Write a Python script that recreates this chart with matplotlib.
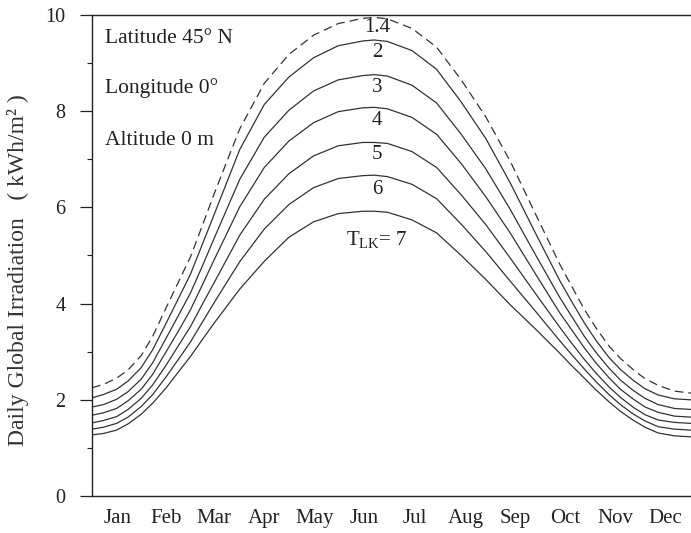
import matplotlib
matplotlib.use("Agg")
import matplotlib.pyplot as plt
from matplotlib.ticker import MultipleLocator, FixedLocator

plt.rcParams['font.family'] = ['Liberation Serif', 'DejaVu Serif']
plt.rcParams['mathtext.fontset'] = 'custom'
plt.rcParams['mathtext.rm'] = 'Liberation Serif'
plt.rcParams['mathtext.it'] = 'Liberation Serif:italic'

# day of year
days = [0, 7, 15, 22, 30, 37, 45, 52, 60, 67, 75, 90, 105, 120, 135, 150, 165, 172, 180,
        195, 210, 225, 240, 255, 270, 285, 292, 300, 307, 315, 322, 330, 337, 345, 355, 365]

# daily global irradiation (kWh/m2) for Linke turbidity values
tlk_1_4 = [2.25, 2.32, 2.45, 2.62, 2.92, 3.32, 3.90, 4.40, 4.97, 5.60, 6.33, 7.63, 8.58, 9.18,
           9.58, 9.82, 9.93, 9.95, 9.92, 9.72, 9.33, 8.65, 7.88, 6.95, 5.88, 4.82, 4.38,
           3.88, 3.50, 3.12, 2.86, 2.62, 2.44, 2.30, 2.18, 2.14]
tlk_2 = [2.04, 2.11, 2.22, 2.39, 2.67, 3.04, 3.58, 4.06, 4.61, 5.21, 5.90, 7.20, 8.14, 8.71,
         9.11, 9.36, 9.46, 9.48, 9.45, 9.26, 8.87, 8.19, 7.43, 6.50, 5.48, 4.48, 4.06,
         3.60, 3.24, 2.88, 2.63, 2.40, 2.23, 2.10, 2.02, 2.00]
tlk_3 = [1.85, 1.90, 2.01, 2.17, 2.43, 2.77, 3.27, 3.71, 4.22, 4.76, 5.40, 6.58, 7.46, 8.02,
         8.42, 8.65, 8.74, 8.76, 8.73, 8.54, 8.17, 7.52, 6.80, 5.95, 5.03, 4.13, 3.75,
         3.32, 2.99, 2.66, 2.41, 2.19, 2.03, 1.90, 1.82, 1.80]
tlk_4 = [1.68, 1.73, 1.82, 1.98, 2.22, 2.53, 2.99, 3.39, 3.87, 4.37, 4.95, 6.01, 6.83, 7.38,
         7.76, 7.99, 8.07, 8.08, 8.05, 7.87, 7.52, 6.91, 6.22, 5.46, 4.63, 3.81, 3.47,
         3.08, 2.77, 2.46, 2.22, 2.01, 1.85, 1.74, 1.66, 1.64]
tlk_5 = [1.52, 1.57, 1.65, 1.80, 2.03, 2.31, 2.71, 3.09, 3.52, 3.97, 4.47, 5.42, 6.17, 6.70,
         7.07, 7.28, 7.35, 7.35, 7.33, 7.16, 6.83, 6.26, 5.64, 4.94, 4.22, 3.51, 3.19,
         2.84, 2.56, 2.27, 2.05, 1.84, 1.69, 1.58, 1.53, 1.51]
tlk_6 = [1.39, 1.43, 1.51, 1.64, 1.86, 2.11, 2.47, 2.81, 3.20, 3.60, 4.05, 4.87, 5.55, 6.06,
         6.41, 6.60, 6.66, 6.67, 6.64, 6.48, 6.18, 5.65, 5.08, 4.46, 3.85, 3.23, 2.95,
         2.64, 2.38, 2.11, 1.90, 1.70, 1.56, 1.44, 1.39, 1.37]
tlk_7 = [1.27, 1.30, 1.37, 1.50, 1.70, 1.93, 2.24, 2.55, 2.90, 3.24, 3.62, 4.30, 4.88, 5.38,
         5.70, 5.87, 5.92, 5.92, 5.90, 5.74, 5.47, 5.00, 4.50, 3.97, 3.48, 2.97, 2.72,
         2.45, 2.21, 1.96, 1.76, 1.57, 1.43, 1.31, 1.25, 1.23]

solid_series = [tlk_2, tlk_3, tlk_4, tlk_5, tlk_6, tlk_7]
curve_labels = ["1.4", "2", "3", "4", "5", "6"]
label_values = [9.73, 9.21, 8.50, 7.80, 7.09, 6.38]

months = ["Jan", "Feb", "Mar", "Apr", "May", "Jun",
          "Jul", "Aug", "Sep", "Oct", "Nov", "Dec"]
month_mid = [15.5, 45, 74.5, 105, 135.5, 166, 196.5, 227.5, 258, 288.5, 319, 349.5]

fig = plt.figure(figsize=(6.91, 5.33), dpi=100)
ax = fig.add_axes([0.1331, 0.0694, 0.8669, 0.9025])

line_col = '#333333'
ax.plot(days, tlk_1_4, color=line_col, lw=0.9, linestyle=(0, (7, 4)))
for s in solid_series:
    ax.plot(days, s, color=line_col, lw=0.9)

ax.set_xlim(0, 365)
ax.set_ylim(0, 10)

ax.spines['right'].set_visible(False)
for sp in ['left', 'top', 'bottom']:
    ax.spines[sp].set_linewidth(1.0)
    ax.spines[sp].set_color('#222222')

ax.yaxis.set_major_locator(MultipleLocator(2))
ax.yaxis.set_minor_locator(MultipleLocator(1))
ax.tick_params(axis='y', which='major', direction='out', length=9, width=0.9,
               pad=10, labelsize=14.5, colors='#222222')
ax.tick_params(axis='y', which='minor', direction='out', length=3.5, width=0.8,
               colors='#222222')
ax.xaxis.set_major_locator(FixedLocator(month_mid))
ax.set_xticklabels(months)
ax.tick_params(axis='x', which='major', length=0, pad=9, labelsize=15,
               colors='#222222')

ax.set_ylabel("Daily Global Irradiation   ( kWh/m\u00b2 )", fontsize=17,
              color='#333333')
ax.yaxis.set_label_coords(-0.105, 0.47)

ax.text(8, 9.52, "Latitude 45\u00b0 N", fontsize=15.5, va='center', ha='left', color='#222222')
ax.text(8, 8.48, "Longitude 0\u00b0", fontsize=15.5, va='center', ha='left', color='#222222')
ax.text(8, 7.40, "Altitude 0 m", fontsize=15.5, va='center', ha='left', color='#222222')

for lab, v in zip(curve_labels, label_values):
    ax.text(173.7, v, lab, fontsize=15, ha='center', va='center', color='#222222')
ax.text(173.7, 5.33, r"T$_\mathrm{LK}$= 7", fontsize=15, ha='center', va='center',
        color='#222222')

fig.savefig("out.png", dpi=100)
